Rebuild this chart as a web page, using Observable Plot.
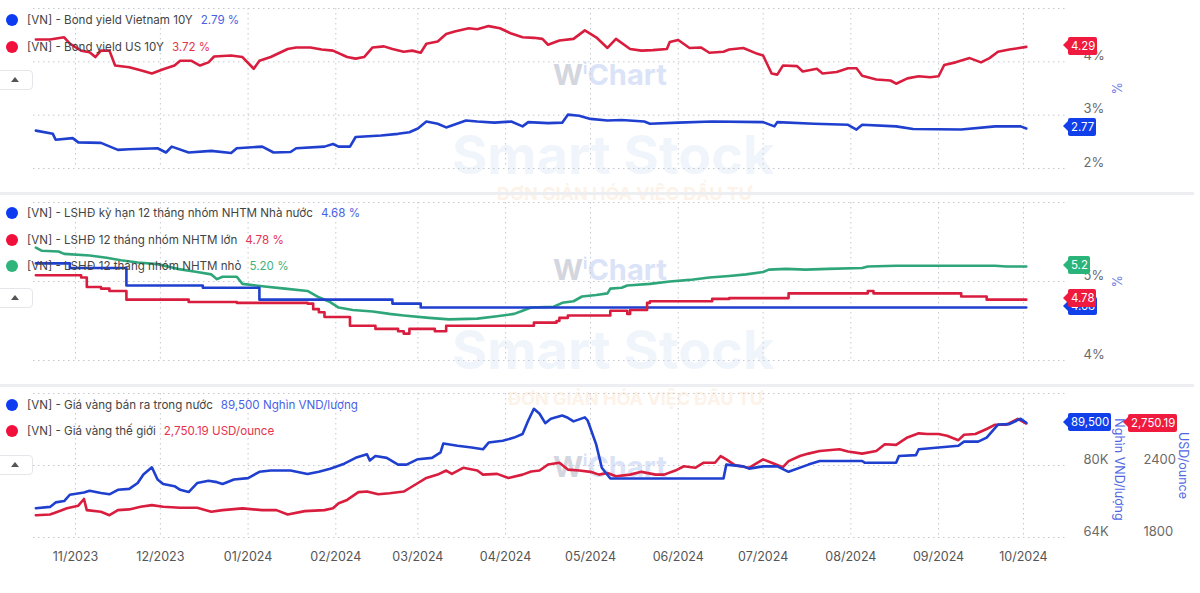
<!DOCTYPE html>
<html><head><meta charset="utf-8">
<script src="https://cdn.jsdelivr.net/npm/d3@7"></script>
<script src="https://cdn.jsdelivr.net/npm/@observablehq/plot@0.6"></script>
<style>
body{margin:0;background:#fff;font-family:Inter,"Noto Sans",sans-serif;}
#wrap{position:relative;width:1200px;height:593px;overflow:hidden;background:#fff;}
.panel{position:absolute;left:0;width:1200px;z-index:1;}
.panel svg{display:block;}
.sep{position:absolute;left:0;width:1194px;height:3px;background:#eceef1;z-index:1;}
.row{position:absolute;left:6px;display:flex;align-items:center;white-space:nowrap;height:16px;font-size:11.6px;color:#444;z-index:2;}
.dot{width:12px;height:12px;border-radius:50%;margin-right:9px;}
.val{margin-left:8px;}
.btn{position:absolute;left:-6px;width:37px;height:18px;border:1px solid #e4e6ea;border-radius:4px;background:#fff;z-index:2;}
.btn::after{content:"";position:absolute;left:16px;top:6px;border-left:4.5px solid transparent;border-right:4.5px solid transparent;border-bottom:5px solid #555;}
.tag{position:absolute;height:18px;line-height:18px;color:#fff;font-size:11.4px;padding:0 2px 0 3px;border-radius:2px;z-index:3;}
.tag::before{content:"";position:absolute;left:-5px;top:3.5px;border-top:5.5px solid transparent;border-bottom:5.5px solid transparent;border-right:5px solid var(--c);}
.wm{position:absolute;white-space:nowrap;font-weight:700;z-index:0;pointer-events:none;line-height:1;}
</style>
</head><body><div id="wrap"></div>
<script>
// ---------------- DATA ----------------
const monthStart = "2023-11-01", monthEnd = "2024-10-02";

// Panel 1: bond yields (%)
const vn10yDates = ["2023-10-18","2023-10-24","2023-10-25","2023-10-31","2023-11-02","2023-11-10","2023-11-16","2023-11-20","2023-11-30","2023-12-03","2023-12-05","2023-12-11","2023-12-19","2023-12-26","2023-12-28","2024-01-06","2024-01-10","2024-01-16","2024-01-18","2024-01-28","2024-01-31","2024-02-02","2024-02-06","2024-02-08","2024-02-17","2024-02-23","2024-02-27","2024-03-01","2024-03-04","2024-03-08","2024-03-11","2024-03-18","2024-03-22","2024-03-28","2024-04-03","2024-04-07","2024-04-09","2024-04-16","2024-04-21","2024-04-23","2024-04-27","2024-05-01","2024-05-07","2024-05-12","2024-05-20","2024-05-22","2024-06-01","2024-06-13","2024-07-01","2024-07-05","2024-07-06","2024-07-19","2024-07-31","2024-08-03","2024-08-05","2024-08-17","2024-08-23","2024-09-09","2024-09-21","2024-09-30","2024-10-02"];
const vn10yValues = [2.71,2.65,2.54,2.57,2.49,2.48,2.35,2.36,2.38,2.30,2.41,2.30,2.33,2.29,2.38,2.41,2.30,2.31,2.38,2.41,2.46,2.41,2.41,2.59,2.62,2.65,2.68,2.75,2.88,2.84,2.77,2.90,2.88,2.86,2.88,2.79,2.87,2.85,2.86,3.01,2.99,2.93,2.90,2.91,2.88,2.84,2.86,2.88,2.87,2.79,2.87,2.84,2.82,2.73,2.82,2.79,2.74,2.73,2.79,2.79,2.75];

const us10yDates = ["2023-10-18","2023-10-23","2023-10-28","2023-10-30","2023-11-03","2023-11-06","2023-11-08","2023-11-10","2023-11-13","2023-11-15","2023-11-20","2023-11-24","2023-11-28","2023-12-02","2023-12-06","2023-12-08","2023-12-12","2023-12-15","2023-12-18","2023-12-20","2023-12-26","2023-12-30","2024-01-03","2024-01-05","2024-01-09","2024-01-15","2024-01-18","2024-01-23","2024-01-27","2024-01-31","2024-02-05","2024-02-08","2024-02-11","2024-02-14","2024-02-18","2024-02-21","2024-02-25","2024-02-28","2024-03-02","2024-03-04","2024-03-08","2024-03-11","2024-03-14","2024-03-19","2024-03-22","2024-03-26","2024-03-30","2024-04-03","2024-04-07","2024-04-11","2024-04-14","2024-04-16","2024-04-20","2024-04-25","2024-04-29","2024-05-03","2024-05-07","2024-05-10","2024-05-15","2024-05-19","2024-05-23","2024-05-28","2024-05-29","2024-06-01","2024-06-05","2024-06-09","2024-06-12","2024-06-17","2024-06-19","2024-06-24","2024-06-29","2024-07-01","2024-07-04","2024-07-06","2024-07-08","2024-07-13","2024-07-15","2024-07-20","2024-07-22","2024-07-27","2024-07-31","2024-08-03","2024-08-05","2024-08-10","2024-08-15","2024-08-17","2024-08-21","2024-08-25","2024-08-29","2024-09-01","2024-09-03","2024-09-07","2024-09-12","2024-09-16","2024-09-19","2024-09-22","2024-09-26","2024-10-02"];
const us10yValues = [4.42,4.42,4.46,4.34,4.21,4.18,4.09,4.21,4.21,3.93,3.90,3.84,3.78,3.86,3.93,4.02,4.02,3.93,3.99,4.10,4.12,4.09,3.87,4.02,4.09,4.24,4.27,4.27,4.23,4.21,4.09,4.06,4.09,4.27,4.29,4.24,4.19,4.21,4.17,4.34,4.38,4.52,4.57,4.63,4.61,4.67,4.63,4.53,4.46,4.45,4.43,4.32,4.40,4.43,4.59,4.46,4.26,4.43,4.24,4.21,4.22,4.24,4.37,4.41,4.26,4.27,4.17,4.19,4.23,4.26,4.15,4.12,3.78,3.76,3.93,3.92,3.82,3.87,3.78,3.81,3.88,3.88,3.74,3.67,3.65,3.59,3.69,3.73,3.71,3.73,3.94,3.99,4.07,3.99,4.07,4.19,4.23,4.28];

// Panel 2: 12-month deposit rates (%)
const stateDates = ["2023-10-18","2023-10-30","2023-11-19","2023-12-16","2024-01-05","2024-02-21","2024-03-02","2024-10-02"];
const stateValues = [5.23,5.17,4.95,4.92,4.77,4.72,4.67,4.67];

const largeDates = ["2023-10-18","2023-11-03","2023-11-05","2023-11-10","2023-11-13","2023-11-19","2023-12-11","2023-12-28","2024-01-22","2024-01-24","2024-01-26","2024-01-28","2024-02-06","2024-02-15","2024-02-23","2024-02-25","2024-02-27","2024-03-07","2024-03-11","2024-04-11","2024-04-19","2024-04-20","2024-04-23","2024-05-08","2024-05-14","2024-05-15","2024-05-21","2024-05-22","2024-06-13","2024-06-19","2024-07-10","2024-08-07","2024-08-09","2024-09-09","2024-09-18","2024-10-02"];
const largeValues = [5.08,5.05,4.93,4.91,4.88,4.77,4.74,4.73,4.72,4.65,4.61,4.55,4.44,4.40,4.37,4.34,4.40,4.37,4.44,4.48,4.50,4.54,4.57,4.63,4.59,4.64,4.73,4.75,4.78,4.79,4.85,4.88,4.85,4.81,4.77,4.77];

const smallDates = ["2023-10-18","2023-10-20","2023-10-26","2023-10-28","2023-11-06","2023-11-12","2023-11-17","2023-11-23","2023-11-30","2023-12-07","2023-12-14","2023-12-19","2023-12-21","2023-12-23","2023-12-28","2023-12-30","2024-01-06","2024-01-14","2024-01-22","2024-01-26","2024-01-30","2024-02-02","2024-02-07","2024-02-14","2024-02-20","2024-02-25","2024-03-05","2024-03-12","2024-03-22","2024-03-29","2024-04-04","2024-04-07","2024-04-10","2024-04-18","2024-04-21","2024-04-25","2024-04-28","2024-05-03","2024-05-07","2024-05-08","2024-05-12","2024-05-14","2024-05-22","2024-05-29","2024-06-05","2024-06-12","2024-06-19","2024-06-25","2024-07-01","2024-07-03","2024-07-09","2024-07-16","2024-07-24","2024-08-05","2024-08-07","2024-08-17","2024-08-29","2024-09-21","2024-09-25","2024-10-02"];
const smallValues = [5.43,5.39,5.38,5.35,5.33,5.30,5.27,5.24,5.22,5.16,5.12,5.09,5.03,5.06,5.06,4.97,4.94,4.91,4.88,4.80,4.74,4.67,4.64,4.62,4.59,4.57,4.54,4.52,4.53,4.56,4.59,4.63,4.67,4.68,4.73,4.75,4.81,4.83,4.85,4.91,4.92,4.95,4.97,5.00,5.02,5.05,5.07,5.09,5.12,5.15,5.16,5.15,5.16,5.17,5.19,5.20,5.20,5.20,5.19,5.19];

// Panel 3: gold prices
const vnGoldDates = ["2023-10-18","2023-10-23","2023-10-25","2023-10-28","2023-10-30","2023-11-04","2023-11-06","2023-11-10","2023-11-13","2023-11-16","2023-11-20","2023-11-23","2023-11-25","2023-11-28","2023-11-30","2023-12-02","2023-12-06","2023-12-08","2023-12-11","2023-12-14","2023-12-18","2023-12-21","2023-12-23","2023-12-27","2024-01-01","2024-01-05","2024-01-09","2024-01-16","2024-01-22","2024-01-26","2024-01-30","2024-02-04","2024-02-08","2024-02-12","2024-02-13","2024-02-15","2024-02-19","2024-02-23","2024-02-26","2024-03-01","2024-03-06","2024-03-09","2024-03-10","2024-03-15","2024-03-20","2024-03-24","2024-03-26","2024-03-31","2024-04-04","2024-04-07","2024-04-09","2024-04-11","2024-04-13","2024-04-15","2024-04-17","2024-04-21","2024-04-23","2024-04-25","2024-04-29","2024-04-30","2024-05-03","2024-05-05","2024-05-08","2024-06-17","2024-06-18","2024-06-24","2024-06-26","2024-07-01","2024-07-06","2024-07-10","2024-07-17","2024-07-21","2024-08-05","2024-08-06","2024-08-17","2024-08-18","2024-08-24","2024-08-25","2024-09-01","2024-09-08","2024-09-10","2024-09-15","2024-09-18","2024-09-22","2024-09-26","2024-09-30","2024-10-02"];
const vnGoldValues = [70.5,70.8,71.8,72.1,73.5,74.0,74.4,73.9,73.6,74.6,74.8,76.1,78.0,79.6,76.9,75.9,75.4,74.6,74.1,76.1,76.6,76.3,75.9,76.9,77.2,78.6,78.9,78.9,78.1,78.6,79.3,80.4,81.7,82.5,81.1,82.1,81.7,80.2,80.2,81.4,81.7,82.9,84.9,84.4,84.0,83.6,85.1,85.5,86.2,87.0,90.0,92.6,91.5,89.4,90.4,91.1,90.6,89.8,90.7,90.0,84.7,79.5,77.1,77.1,80.2,79.8,79.3,79.8,79.8,78.6,80.2,81.0,81.0,80.6,80.6,82.1,82.3,83.6,84.0,84.4,85.3,85.3,86.2,89.1,89.2,90.4,89.5];

const worldGoldDates = ["2023-10-18","2023-10-23","2023-10-25","2023-10-29","2023-11-02","2023-11-04","2023-11-05","2023-11-10","2023-11-13","2023-11-16","2023-11-20","2023-11-24","2023-11-28","2023-12-02","2023-12-08","2023-12-14","2023-12-19","2023-12-23","2023-12-30","2024-01-06","2024-01-11","2024-01-15","2024-01-21","2024-01-28","2024-01-31","2024-02-02","2024-02-05","2024-02-09","2024-02-12","2024-02-16","2024-02-20","2024-02-25","2024-02-28","2024-03-04","2024-03-08","2024-03-11","2024-03-13","2024-03-17","2024-03-22","2024-03-24","2024-03-29","2024-04-02","2024-04-07","2024-04-10","2024-04-13","2024-04-16","2024-04-20","2024-04-23","2024-04-27","2024-05-01","2024-05-04","2024-05-07","2024-05-10","2024-05-15","2024-05-19","2024-05-24","2024-05-27","2024-05-31","2024-06-03","2024-06-07","2024-06-10","2024-06-14","2024-06-16","2024-06-18","2024-06-21","2024-06-26","2024-07-01","2024-07-04","2024-07-08","2024-07-10","2024-07-14","2024-07-17","2024-07-21","2024-07-24","2024-07-28","2024-07-31","2024-08-05","2024-08-10","2024-08-13","2024-08-17","2024-08-21","2024-08-25","2024-08-28","2024-09-01","2024-09-04","2024-09-08","2024-09-10","2024-09-14","2024-09-18","2024-09-21","2024-09-25","2024-09-29","2024-10-02"];
const worldGoldValues = [1986,1992,2009,2043,2065,2121,2028,2014,1986,2028,2034,2056,2070,2056,2048,2048,2014,2028,2043,2028,2028,1992,2020,2028,2043,2085,2113,2178,2183,2161,2169,2183,2225,2296,2324,2358,2330,2381,2358,2324,2330,2296,2324,2350,2358,2408,2423,2366,2358,2347,2324,2338,2310,2324,2347,2324,2324,2358,2394,2381,2423,2423,2479,2451,2403,2381,2451,2423,2386,2436,2479,2499,2521,2527,2535,2516,2499,2521,2577,2572,2634,2668,2662,2662,2648,2611,2656,2662,2704,2740,2740,2789,2750];

// Axis ticks / labels
const p1Grid = [2,3,4,5], p1Ticks = [2,3,4];
const p2Grid = [4,5,6], p2Ticks = [4,5];
const vndGrid = [64,80,96], vndTicks = [64,80];
const usdTicks = [1800,2400];

// Legends
const legend1 = [
  {name:"[VN] - Bond yield Vietnam 10Y", value:"2.79 %", dot:"#0d3bf2", vc:"#4a61e6"},
  {name:"[VN] - Bond yield US 10Y", value:"3.72 %", dot:"#f10f3c", vc:"#e6324f"}];
const legend2 = [
  {name:"[VN] - LSHĐ kỳ hạn 12 tháng nhóm NHTM Nhà nước", value:"4.68 %", dot:"#0d3bf2", vc:"#4a61e6"},
  {name:"[VN] - LSHĐ 12 tháng nhóm NHTM lớn", value:"4.78 %", dot:"#f10f3c", vc:"#e6324f"},
  {name:"[VN] - LSHĐ 12 tháng nhóm NHTM nhỏ", value:"5.20 %", dot:"#2fb47c", vc:"#3cb37f"}];
const legend3 = [
  {name:"[VN] - Giá vàng bán ra trong nước", value:"89,500 Nghìn VND/lượng", dot:"#0d3bf2", vc:"#4a61e6"},
  {name:"[VN] - Giá vàng thế giới", value:"2,750.19 USD/ounce", dot:"#f10f3c", vc:"#e6324f"}];

// Last-value tags
const tagValues1 = [2.77, 4.29], tagLabels1 = ["2.77","4.29"];
const tagValues2 = [5.2, 4.68, 4.78], tagLabels2 = ["5.2","4.68","4.78"];
const tagValues3 = [89.5, 2750.19], tagLabels3 = ["89,500","2,750.19"];

// ---------------- BUILD ----------------
const BLUE = "#1f3fcf", RED = "#d91d3e", GREEN = "#2ea67a";
const TAGBLUE = "#1140ea", TAGRED = "#ef1a3d", TAGGREEN = "#2bb47a";
const parse = d3.utcParse("%Y-%m-%d");
const ser = (ds, vs) => ds.map((d, i) => ({date: parse(d), v: vs[i]}));
const xDomain = [new Date(Date.UTC(2023,9,17,4)), new Date(Date.UTC(2024,9,16,22))];
const months = d3.utcMonths(parse(monthStart), parse(monthEnd));
const usdToVnd = d3.scaleLinear().domain(usdTicks).range(vndTicks);
const vndToUsd = usdToVnd.invert;

const wrap = document.getElementById("wrap");
const gridStyle = {stroke:"#c4c8ce", strokeOpacity:1, strokeDasharray:"1.5,3.5", strokeWidth:1};
const tickStyle = {fill:"#6a6a6a", fontSize:13, textAnchor:"start"};
const titleStyle = {rotate:90, textAnchor:"middle", fontSize:12.5};

function add(css, html) { const d = document.createElement("div"); if (css.className) d.className = css.className; Object.assign(d.style, css.style || {}); if (html != null) d.innerHTML = html; wrap.appendChild(d); return d; }

function legend(items, top0, gap) {
  items.forEach((it, i) => {
    add({className:"row", style:{top:(top0 + i*gap - 8)+"px"}},
      `<span class="dot" style="background:${it.dot}"></span><span>${it.name}</span><span class="val" style="color:${it.vc}">${it.value}</span>`);
  });
}
function tag(label, left, top, color) {
  const t = add({className:"tag", style:{left:left+"px", top:(top-9)+"px", background:color}}, label);
  t.style.setProperty("--c", color);
}
function watermark(html, left, top, size, color, extra) {
  add({className:"wm", style:Object.assign({left:left+"px", top:top+"px", fontSize:size+"px", color}, extra||{})}, html);
}
function basePlot(h, mt, mb, yDomain, marks) {
  return Plot.plot({
    width:1200, height:h, marginLeft:33, marginRight:132, marginTop:mt, marginBottom:mb,
    x:{type:"utc", domain:xDomain, axis:null},
    y:{domain:yDomain, axis:null},
    style:{fontFamily:"Inter, 'Noto Sans', sans-serif", background:"transparent", overflow:"visible"},
    marks
  });
}

// watermarks (behind the lines)
const wiChart = '<span style="color:#d3d6de">W</span><span style="color:#d9e0f6;font-size:0.55em;vertical-align:0.7em">i</span><span style="color:#dbe3f8">Chart</span>';
[60, 255, 452].forEach(t => watermark(wiChart, 553, t, 29, "#ddd"));
watermark("Smart Stock", 452, 128, 54, "#f0f5fc");
watermark("Smart Stock", 452, 323, 54, "#f0f5fc");
watermark("ĐƠN GIẢN HÓA VIỆC ĐẦU TƯ", 497, 185, 18, "#fdf2e8");
watermark("ĐƠN GIẢN HÓA VIỆC ĐẦU TƯ", 508, 390, 18, "#fdf2e8");

// ---- Panel 1 ----
const p1 = basePlot(191, 8, 23, [2,5], [
  Plot.gridY(p1Grid, gridStyle),
  Plot.gridX(months, gridStyle),
  Plot.text(p1Ticks, {y:d=>d, frameAnchor:"right", dx:15, dy:-6, text:d=>d+"%", ...tickStyle}),
  Plot.text(["%"], {frameAnchor:"right", dx:47, fill:"#6a78e6", ...titleStyle}),
  Plot.line(ser(us10yDates, us10yValues), {x:"date", y:"v", stroke:RED, strokeWidth:2.6}),
  Plot.line(ser(vn10yDates, vn10yValues), {x:"date", y:"v", stroke:BLUE, strokeWidth:2.6})
]);
add({className:"panel", style:{top:"0px"}}).appendChild(p1);

// ---- Panel 2 ----
const p2 = basePlot(189, 7, 24, [4,6], [
  Plot.gridY(p2Grid, gridStyle),
  Plot.gridX(months, gridStyle),
  Plot.text(p2Ticks, {y:d=>d, frameAnchor:"right", dx:15, dy:-6, text:d=>d+"%", ...tickStyle}),
  Plot.text(["%"], {frameAnchor:"right", dx:47, fill:"#6a78e6", ...titleStyle}),
  Plot.line(ser(smallDates, smallValues), {x:"date", y:"v", stroke:GREEN, strokeWidth:2.6}),
  Plot.line(ser(stateDates, stateValues), {x:"date", y:"v", stroke:BLUE, strokeWidth:2.6, curve:"step-after"}),
  Plot.line(ser(largeDates, largeValues), {x:"date", y:"v", stroke:RED, strokeWidth:2.6, curve:"step-after"})
]);
add({className:"panel", style:{top:"195px"}}).appendChild(p2);

// ---- Panel 3 ----
const fmtMonth = d3.utcFormat("%m/%Y");
const p3 = basePlot(205, 5, 56, [64,96], [
  Plot.gridY(vndGrid, gridStyle),
  Plot.gridX(months, gridStyle),
  Plot.text(vndTicks, {y:d=>d, frameAnchor:"right", dx:15, dy:-6, text:d=>d+"K", ...tickStyle}),
  Plot.text(vndTicks, {y:d=>d, frameAnchor:"right", dx:75, dy:-6, text:d=>String(Math.round(vndToUsd(d))), ...tickStyle}),
  Plot.text(["Nghìn VND/lượng"], {frameAnchor:"right", dx:50, dy:4, fill:"#5067e3", ...titleStyle}),
  Plot.text(["USD/ounce"], {frameAnchor:"right", dx:114, fill:"#5067e3", ...titleStyle}),
  Plot.text(months, {x:d=>d, frameAnchor:"bottom", dy:23, text:d=>fmtMonth(d), fill:"#555", fontSize:12.5}),
  Plot.line(ser(worldGoldDates, worldGoldValues), {x:"date", y:d=>usdToVnd(d.v), stroke:RED, strokeWidth:2.6}),
  Plot.line(ser(vnGoldDates, vnGoldValues), {x:"date", y:"v", stroke:BLUE, strokeWidth:2.6})
]);
add({className:"panel", style:{top:"388px"}}).appendChild(p3);

// separators
add({className:"sep", style:{top:"192px"}});
add({className:"sep", style:{top:"384px"}});

// legends + collapse buttons
legend(legend1, 20, 27);
legend(legend2, 213, 26.5);
legend(legend3, 405, 26);
[70, 288, 455].forEach(t => add({className:"btn", style:{top:t+"px"}}));

// last-value tags placed through the plots' y scales
const y1 = p1.scale("y"), y2 = p2.scale("y"), y3 = p3.scale("y");
tag(tagLabels1[0], 1068, y1.apply(tagValues1[0]), TAGBLUE);
tag(tagLabels1[1], 1068, y1.apply(tagValues1[1]), TAGRED);
tag(tagLabels2[0], 1068, 195 + y2.apply(tagValues2[0]), TAGGREEN);
tag(tagLabels2[1], 1068, 195 + y2.apply(tagValues2[1]), TAGBLUE);
tag(tagLabels2[2], 1068, 195 + y2.apply(tagValues2[2]), TAGRED);
tag(tagLabels3[0], 1068, 388 + y3.apply(tagValues3[0]), TAGBLUE);
tag(tagLabels3[1], 1128, 388 + y3.apply(usdToVnd(tagValues3[1])), TAGRED);
</script></body></html>
